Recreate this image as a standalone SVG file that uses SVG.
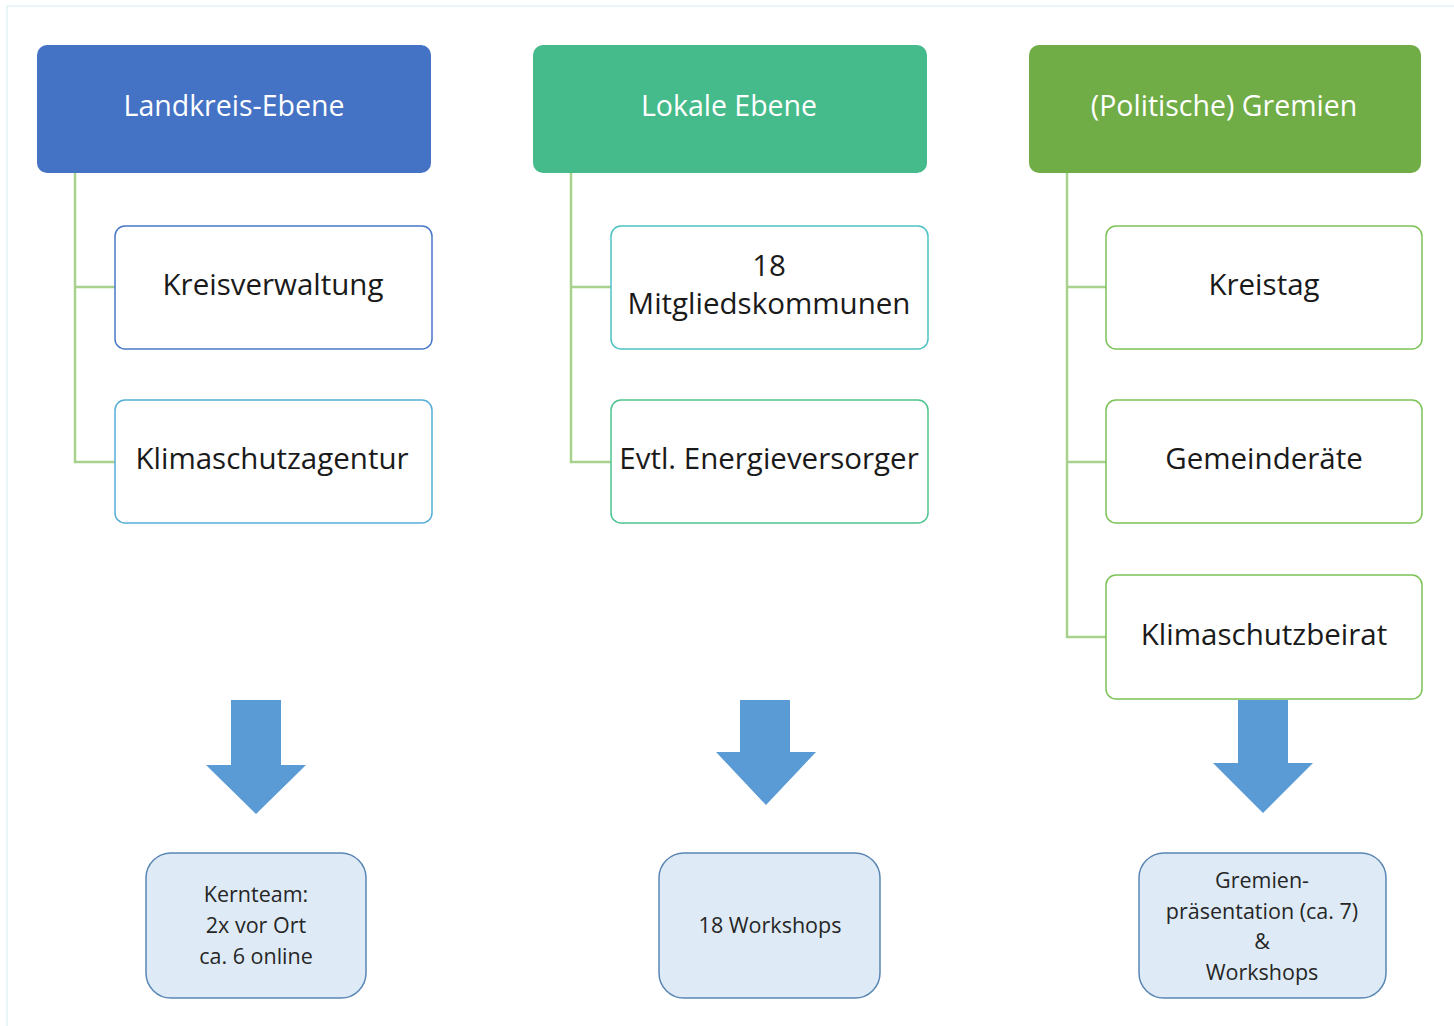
<svg xmlns="http://www.w3.org/2000/svg" width="1454" height="1026" viewBox="0 0 1454 1026">
<style>
text{font-family:"Open Sans","Noto Sans","Liberation Sans",sans-serif;text-anchor:middle}
.h{fill:#ffffff;font-size:28.5px}
.c{fill:#1a1a1a;font-size:29.5px}
.b{fill:#262626;font-size:21.5px}
.box{fill:#ffffff;stroke-width:1.5}
.bot{fill:#DEEBF7;stroke:#5A86B3;stroke-width:1.5}
.con{fill:none;stroke:#A9D18E;stroke-width:2.5}
.arr{fill:#5B9BD5}
</style>
<rect x="0" y="0" width="1454" height="1026" fill="#ffffff"/>
<path d="M7 1026 V6 H1454" fill="none" stroke="#E3F2F5" stroke-width="1.5"/>
<g id="connectors">
<path class="con" d="M75 173 V462 H115 M75 287 H115"/>
<path class="con" d="M571 173 V462 H611 M571 287 H611"/>
<path class="con" d="M1067 173 V637 H1106 M1067 287 H1106 M1067 462 H1106"/>
<path class="arr" d="M231 700 H281 V765 H306 L256 814 L206 765 H231 Z"/>
<path class="arr" d="M740 700 H790 V752 H816 L766 805 L716 752 H740 Z"/>
<path class="arr" d="M1238 700 H1288 V763 H1313 L1263 813 L1213 763 H1238 Z"/>
</g>
<g id="h1"><rect x="37" y="45" width="394" height="128" rx="10" fill="#4472C4"/><text class="h" x="234" y="116">Landkreis-Ebene</text></g>
<g id="h2"><rect x="533" y="45" width="394" height="128" rx="10" fill="#45BA8B"/><text class="h" x="729" y="116">Lokale Ebene</text></g>
<g id="h3"><rect x="1029" y="45" width="392" height="128" rx="10" fill="#70AD47"/><text class="h" x="1224" y="116">(Politische) Gremien</text></g>
<g id="c1a"><rect class="box" x="115" y="226" width="317" height="123" rx="10" stroke="#4A78C8"/><text class="c" x="273" y="295">Kreisverwaltung</text></g>
<g id="c1b"><rect class="box" x="115" y="400" width="317" height="123" rx="10" stroke="#56ADD6"/><text class="c" x="272" y="469">Klimaschutzagentur</text></g>
<g id="c2a"><rect class="box" x="611" y="226" width="317" height="123" rx="10" stroke="#4CC2C4"/><text class="c" x="769" y="276">18</text><text class="c" x="769" y="314">Mitgliedskommunen</text></g>
<g id="c2b"><rect class="box" x="611" y="400" width="317" height="123" rx="10" stroke="#4CC48F"/><text class="c" x="769" y="469">Evtl. Energieversorger</text></g>
<g id="c3a"><rect class="box" x="1106" y="226" width="316" height="123" rx="10" stroke="#7BC256"/><text class="c" x="1264" y="295">Kreistag</text></g>
<g id="c3b"><rect class="box" x="1106" y="400" width="316" height="123" rx="10" stroke="#7BC256"/><text class="c" x="1264" y="469">Gemeinderäte</text></g>
<g id="c3c"><rect class="box" x="1106" y="575" width="316" height="124" rx="10" stroke="#7BC256"/><text class="c" x="1264" y="645">Klimaschutzbeirat</text></g>
<g id="b1"><rect class="bot" x="146" y="853" width="220" height="145" rx="25"/><text class="b" x="256" y="902">Kernteam:</text><text class="b" x="256" y="933">2x vor Ort</text><text class="b" x="256" y="964">ca. 6 online</text></g>
<g id="b2"><rect class="bot" x="659" y="853" width="221" height="145" rx="25"/><text class="b" x="770" y="933">18 Workshops</text></g>
<g id="b3"><rect class="bot" x="1139" y="853" width="247" height="145" rx="25"/><text class="b" x="1262" y="888">Gremien-</text><text class="b" x="1262" y="919">präsentation (ca. 7)</text><text class="b" x="1262" y="949">&amp;</text><text class="b" x="1262" y="980">Workshops</text></g>
</svg>
